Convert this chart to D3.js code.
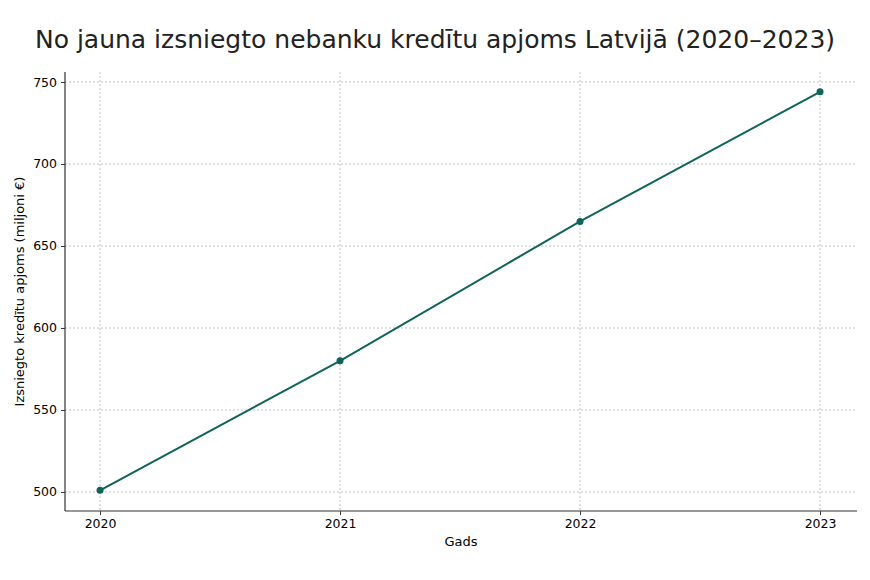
<!DOCTYPE html>
<html><head><meta charset="utf-8">
<script src="https://cdn.jsdelivr.net/npm/d3@7"></script>
<style>body{margin:0;background:#fff}svg{font-family:"DejaVu Sans",sans-serif}</style>
</head><body>
<svg id="c" width="870" height="580"></svg>
<script>
const years = [2020, 2021, 2022, 2023];
const values = [501, 580, 665, 744];
const yTicks = [500, 550, 600, 650, 700, 750];
const title = "No jauna izsniegto nebanku kredītu apjoms Latvijā (2020–2023)";
const xLabel = "Gads";
const yLabel = "Izsniegto kredītu apjoms (miljoni €)";

const svg = d3.select("#c");
const L = 65, R = 857, T = 72, B = 511;
const x = d3.scaleLinear().domain([2019.854, 2023.154]).range([L, R]);
const y = d3.scaleLinear().domain([488.4, 756.1]).range([B, T]);
const color = "#0f6358";

const grid = svg.append("g").attr("stroke", "#b0b0b0").attr("stroke-width", 0.8).attr("stroke-dasharray", "2,2");
years.forEach(v => grid.append("line").attr("x1", x(v)).attr("x2", x(v)).attr("y1", T).attr("y2", B));
yTicks.forEach(v => grid.append("line").attr("x1", L).attr("x2", R).attr("y1", y(v)).attr("y2", y(v)));

const xa = svg.append("g").attr("transform", `translate(0,${B})`)
  .call(d3.axisBottom(x).tickValues(years).tickFormat(d3.format("d")).tickSizeOuter(0).tickSize(4).tickPadding(4));
const ya = svg.append("g").attr("transform", `translate(${L},0)`)
  .call(d3.axisLeft(y).tickValues(yTicks).tickSizeOuter(0).tickSize(4).tickPadding(4));
[xa, ya].forEach(a => {
  a.attr("font-size", null).attr("font-family", null);
  a.selectAll("text").style("font-size", "12.5px").attr("fill", "#000");
  a.select(".domain").remove();
  a.selectAll(".tick line").attr("stroke", "#333");
});
svg.append("line").attr("x1", L).attr("x2", R).attr("y1", B).attr("y2", B).attr("stroke", "#333").attr("stroke-width", 1.2);
svg.append("line").attr("x1", L).attr("x2", L).attr("y1", T).attr("y2", B).attr("stroke", "#333").attr("stroke-width", 1.2);

const data = years.map((d, i) => [d, values[i]]);
svg.append("path").datum(data).attr("fill", "none").attr("stroke", color).attr("stroke-width", 2)
  .attr("d", d3.line().x(d => x(d[0])).y(d => y(d[1])));
svg.selectAll("circle.p").data(data).enter().append("circle").attr("cx", d => x(d[0])).attr("cy", d => y(d[1])).attr("r", 3.5).attr("fill", color);

svg.append("text").attr("x", 435).attr("y", 48).attr("text-anchor", "middle").attr("font-size", 25).attr("fill", "#222").text(title);
svg.append("text").attr("x", (L + R) / 2).attr("y", 546).attr("text-anchor", "middle").attr("font-size", 13).text(xLabel);
svg.append("text").attr("transform", `translate(24,${(T + B) / 2}) rotate(-90)`).attr("text-anchor", "middle").attr("font-size", 13).text(yLabel);
</script>
</body></html>
